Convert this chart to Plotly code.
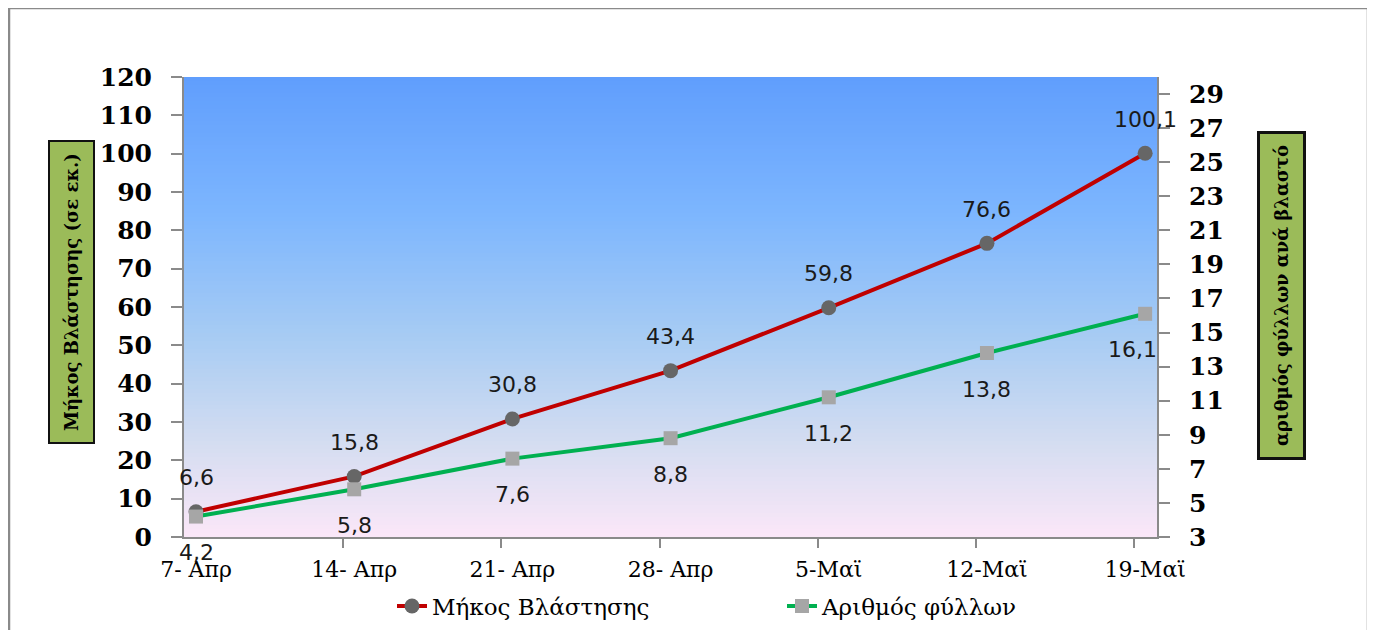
import plotly.graph_objects as go

categories = ["7- Απρ", "14- Απρ", "21- Απρ", "28- Απρ", "5-Μαϊ", "12-Μαϊ", "19-Μαϊ"]
shoot_length = [6.6, 15.8, 30.8, 43.4, 59.8, 76.6, 100.1]
leaf_count = [4.2, 5.8, 7.6, 8.8, 11.2, 13.8, 16.1]
shoot_labels = ["6,6", "15,8", "30,8", "43,4", "59,8", "76,6", "100,1"]
leaf_labels = ["4,2", "5,8", "7,6", "8,8", "11,2", "13,8", "16,1"]
left_ticks = list(range(0, 121, 10))
right_ticks = list(range(3, 30, 2))

xs = list(range(len(categories)))

# page has an 8px body margin; figure is sized/shifted to compensate
OFF = 8
FW, FH = 1375 - OFF, 630 - OFF
L, R, T, B = 184 - OFF, 1157 - OFF, 77 - OFF, 537 - OFF
W, H = R - L, B - T

def px(x):
    return (x - OFF - L) / W

def py(y):
    return (B - (y - OFF)) / H

fig = go.Figure()
fig.add_trace(go.Scatter(
    x=xs, y=shoot_length, name="Μήκος Βλάστησης", mode="lines+markers",
    line=dict(color="#c00000", width=4),
    marker=dict(symbol="circle", size=15, color="#666666"),
    yaxis="y", cliponaxis=False,
))
fig.add_trace(go.Scatter(
    x=xs, y=leaf_count, name="Αριθμός φύλλων", mode="lines+markers",
    line=dict(color="#00b050", width=4),
    marker=dict(symbol="square", size=14, color="#a6a6a6"),
    yaxis="y2", cliponaxis=False,
))

# data labels
lab_font = dict(family="DejaVu Sans", size=22, color="#1a1a1a")
anns = []
for x, v, t in zip(xs, shoot_length, shoot_labels):
    anns.append(dict(x=x, y=v, xref="x", yref="y", text=t, showarrow=False,
                     yshift=34, font=lab_font))
for i, (x, v, t) in enumerate(zip(xs, leaf_count, leaf_labels)):
    anns.append(dict(x=x, y=v, xref="x", yref="y2", text=t, showarrow=False,
                     yshift=-36, xshift=(-13 if i == len(xs) - 1 else 0), font=lab_font))

# axis title boxes
title_font = dict(family="DejaVu Serif", size=18, weight="bold", color="#000000")
anns.append(dict(x=px(71), y=py(292), xref="paper", yref="paper", xanchor="center",
                 yanchor="middle", text="Μήκος Βλάστησης (σε εκ.)",
                 showarrow=False, textangle=-90, bgcolor="#9bbb59", bordercolor="#111111",
                 borderwidth=2, borderpad=11, font=title_font))
anns.append(dict(x=px(1281), y=py(296), xref="paper", yref="paper", xanchor="center",
                 yanchor="middle", text="αριθμός φύλλων ανά βλαστό",
                 showarrow=False, textangle=-90, bgcolor="#9bbb59", bordercolor="#111111",
                 borderwidth=3, borderpad=11, font=title_font))

# gradient background for plot area
stops = [(0.0, (96, 158, 253)), (0.3, (125, 182, 254)), (0.57, (168, 204, 243)),
         (0.8, (213, 221, 241)), (1.0, (251, 231, 248))]

def col(t):
    for (t0, c0), (t1, c1) in zip(stops[:-1], stops[1:]):
        if t0 <= t <= t1:
            f = (t - t0) / (t1 - t0)
            return "rgb(%d,%d,%d)" % tuple(round(a + (b - a) * f) for a, b in zip(c0, c1))
    return "rgb(%d,%d,%d)" % stops[-1][1]

shapes = []
n = 115
for k in range(n):
    t = (k + 0.5) / n  # from top
    shapes.append(dict(type="rect", xref="x domain", yref="y domain", layer="below",
                       x0=0, x1=1, y0=1 - (k + 1) / n - 0.002, y1=1 - k / n,
                       fillcolor=col(t), line=dict(width=0)))
# outer frame
shapes.append(dict(type="rect", xref="paper", yref="paper",
                   x0=(1 - L) / W, x1=(1360 - L) / W, y0=(B - 640) / H, y1=(B - 0) / H,
                   line=dict(color="#8a8a8a", width=2.5), fillcolor="rgba(0,0,0,0)"))

axis_common = dict(showgrid=False, zeroline=False, showline=True, linecolor="#8a8a8a",
                   linewidth=2)
yfont = dict(family="DejaVu Serif", size=25, weight="bold", color="#000")

fig.update_layout(
    width=FW, height=FH,
    margin=dict(l=L, r=FW - R, t=T, b=FH - B, autoexpand=False),
    paper_bgcolor="white", plot_bgcolor="rgba(0,0,0,0)",
    annotations=anns, shapes=shapes,
    showlegend=True,
    legend=dict(orientation="h", x=px(392), xanchor="left", y=py(606), yanchor="middle",
                font=dict(family="DejaVu Serif", size=23, color="#000"),
                itemwidth=30, entrywidth=345, bgcolor="rgba(0,0,0,0)"),
    xaxis=dict(range=[-0.076, 6.075], tickvals=xs, ticktext=categories,
               ticks="", ticklabelstandoff=12,
               minor=dict(tickvals=[i - 0.07 for i in xs[1:]], ticks="outside", ticklen=9,
                          tickcolor="#8a8a8a", tickwidth=1.5, showgrid=False),
               tickfont=dict(family="DejaVu Serif", size=22, color="#000"), **axis_common),
    yaxis=dict(range=[0, 120], tickvals=left_ticks,
               ticks="outside", ticklen=11, tickcolor="#8a8a8a", tickwidth=1.5,
               ticklabelstandoff=14, tickfont=yfont, **axis_common),
    yaxis2=dict(range=[3, 30], tickvals=right_ticks, overlaying="y", side="right",
                ticks="outside", ticklen=11, tickcolor="#8a8a8a", tickwidth=1.5,
                ticklabelstandoff=14, tickfont=yfont, **axis_common),
)

fig.write_html("out.html")
